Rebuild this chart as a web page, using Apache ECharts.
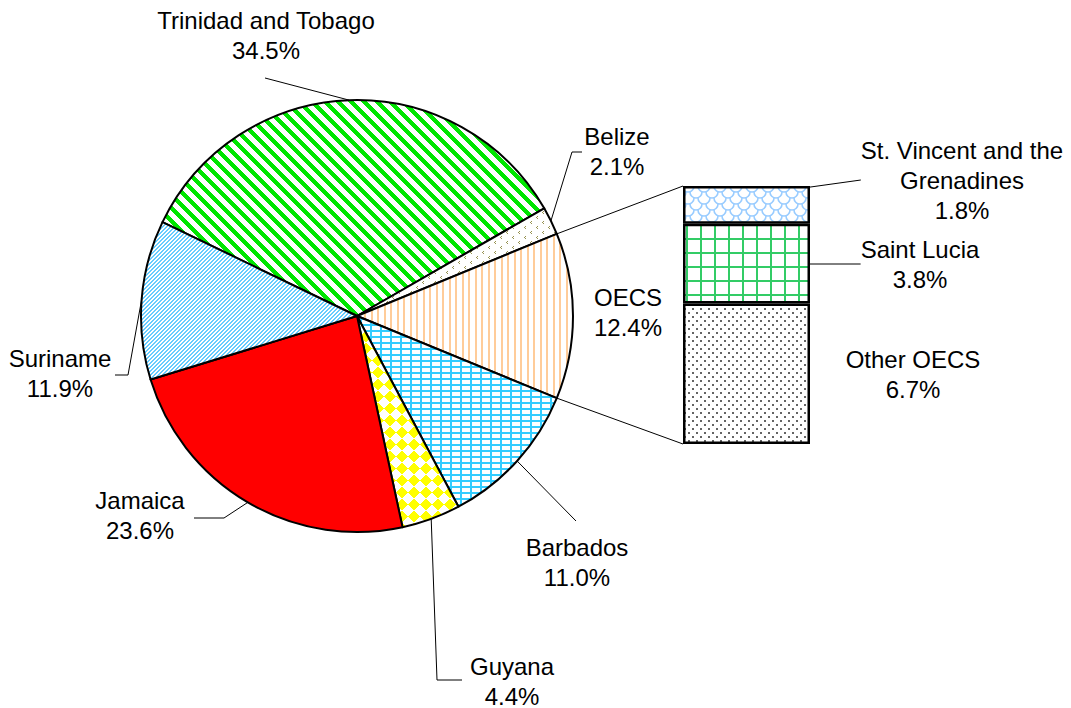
<!DOCTYPE html>
<html><head><meta charset="utf-8">
<script src="https://cdn.jsdelivr.net/npm/echarts/dist/echarts.min.js"></script>
<style>html,body{margin:0;padding:0;background:#fff}#c{width:1071px;height:708px}</style>
</head><body><div id="c"></div>
<script>
// ---------------- data ----------------
const pieNames  = ['Trinidad and Tobago','Belize','OECS','Barbados','Guyana','Jamaica','Suriname'];
const pieValues = [34.5, 2.1, 12.4, 11.0, 4.4, 23.6, 11.9];
const splitName = 'OECS';
const barNames  = ['Other OECS','Saint Lucia','St. Vincent and the Grenadines'];
const barLabels = ['Other OECS','Saint Lucia','St. Vincent and the\nGrenadines'];
const barValues = [6.7, 3.8, 1.8];

// ---------------- layout / style ----------------
const PIE = {cx:357, cy:316, r:216};
const GRID = {left:683, top:186, width:127, height:258};
const FONT = {fontFamily:'"Liberation Sans", Arial, sans-serif', fontSize:24, lineHeight:30, color:'#000'};
const pieLabelPos = {
  'Trinidad and Tobago': {x:266, y:35,  line:[[265,78],[265,78]]},
  'Belize':              {x:617, y:151, line:[[572,152],[582,152]]},
  'OECS':                {x:628, y:312},
  'Barbados':            {x:577, y:562, line:[[576,521],[576,521]]},
  'Guyana':              {x:512, y:681, line:[[437,680],[462,680]]},
  'Jamaica':             {x:140, y:515, line:[[224,518],[194,518]]},
  'Suriname':            {x:60,  y:373, line:[[128,375],[115,375]]}
};
const barLabelPos = {
  'St. Vincent and the Grenadines': {x:962, y:180, line:[[856,178],[856,178]]},
  'Saint Lucia':                    {x:920, y:264, line:[[855,263],[855,263]]},
  'Other OECS':                     {x:913, y:374}
};

// ---------------- patterns ----------------
function tile(w,h,fn){
  const c=document.createElement('canvas');c.width=w;c.height=h;
  const g=c.getContext('2d');const img=g.createImageData(w,h);
  for(let y=0;y<h;y++)for(let x=0;x<w;x++){
    const col=fn(x,y);const i=(y*w+x)*4;
    const v=col||[255,255,255];
    img.data[i]=v[0];img.data[i+1]=v[1];img.data[i+2]=v[2];img.data[i+3]=255;
  }
  g.putImageData(img,0,0);return c;
}
function pat(c){return {image:c.toDataURL(), repeat:'repeat'};}
const GREEN=[0,230,0], LBLUE=[102,204,255], YEL=[255,255,0], CYAN=[51,204,255], PEACH=[255,204,153];
const patterns = {
  'Trinidad and Tobago': pat(tile(13,13,(x,y)=>(((x-y)%13+13)%13)<6?GREEN:null)),
  'Suriname': pat(tile(4,4,(x,y)=>((x+y)%4)<2?LBLUE:null)),
  'Guyana': pat(tile(12,12,(x,y)=>{const u=Math.floor((x+y+0.5)/12),v=Math.floor((x-y+120.5)/12);return (u+v)%2===0?YEL:null;})),
  'Barbados': pat(tile(20,12,(x,y)=>{const row=Math.floor(y/6);const yy=y%6;if(yy<2)return CYAN;const xx=(x+(row%2)*10)%20;return (xx<2||(xx>=10&&xx<12))?CYAN:null;})),
  'OECS': pat(tile(13,4,(x,y)=>(x===0||x===1||x===7||x===8)?PEACH:null)),
  'Belize': pat(tile(12,10,(x,y)=>{const pts=[[3,1],[2,2],[3,3],[9,6],[8,7],[9,8]];return pts.some(p=>p[0]===x&&p[1]===y)?[150,145,80]:null;})),
  'Jamaica': '#ff0000',
  'Saint Lucia': pat(tile(14,14,(x,y)=>(x%14<2||y%14<2)?[51,204,102]:null)),
  'Other OECS': pat(tile(8,8,(x,y)=>{const a=(x<2&&y<2),b=(x>=4&&x<6&&y>=4&&y<6);return (a||b)?[100,100,100]:null;})),
  'St. Vincent and the Grenadines': (function(){
    const c=document.createElement('canvas');c.width=16;c.height=12;const g=c.getContext('2d');
    g.fillStyle='#fff';g.fillRect(0,0,16,12);g.strokeStyle='#99ccff';g.lineWidth=1.6;
    [[8,0],[0,6],[16,6],[8,12],[0,-6],[16,-6]].forEach(p=>{g.beginPath();g.arc(p[0],p[1],6,0,Math.PI);g.stroke();});
    return pat(c);
  })()
};

// ---------------- geometry from data ----------------
const total = pieValues.reduce((a,b)=>a+b,0);
const splitIdx = pieNames.indexOf(splitName);
let before=0; for(let i=0;i<splitIdx;i++) before+=pieValues[i];
const startAngle = (before + pieValues[splitIdx]/2)/total*360; // split slice centred on the right
function angleAt(cum){return (startAngle - cum/total*360)*Math.PI/180;}
function edge(a){return [PIE.cx+PIE.r*Math.cos(a), PIE.cy-PIE.r*Math.sin(a)];}
const midAngles=[]; {let c=0; pieValues.forEach(v=>{midAngles.push(angleAt(c+v/2)); c+=v;});}

const chart = echarts.init(document.getElementById('c'), null, {renderer:'svg'});
const barTotal = barValues.reduce((a,b)=>a+b,0);

const option = {
  animation:false,
  backgroundColor:'#fff',
  grid:{left:GRID.left, top:GRID.top, width:GRID.width, height:GRID.height},
  xAxis:{type:'category', data:[splitName], show:false},
  yAxis:{type:'value', min:0, max:barTotal, show:false},
  series:[
    {
      type:'pie', center:[PIE.cx,PIE.cy], radius:PIE.r, startAngle:startAngle, clockwise:true,
      avoidLabelOverlap:false,
      itemStyle:{borderColor:'#000', borderWidth:2},
      label:Object.assign({show:true, position:'outside', formatter:p=>p.name+'\n'+p.value.toFixed(1)+'%'}, FONT),
      labelLine:{show:true, lineStyle:{color:'#000', width:1}},
      labelLayout:function(p){
        const name=pieNames[p.dataIndex]; const L=pieLabelPos[name];
        const r={x:L.x, y:L.y, align:'center', verticalAlign:'middle'};
        if(L.line){ r.labelLinePoints=[edge(midAngles[p.dataIndex])].concat(L.line); }
        return r;
      },
      data:pieNames.map((n,i)=>({name:n, value:pieValues[i], itemStyle:{color:patterns[n]},
        labelLine:{show:!!pieLabelPos[n].line}}))
    }
  ].concat(barNames.map((n,i)=>({
    type:'bar', name:n, stack:'split', barWidth:'100%',
    itemStyle:{color:patterns[n], borderColor:'#000', borderWidth:2.5},
    label:Object.assign({show:true, position:'right', formatter:()=>barLabels[i]+'\n'+barValues[i].toFixed(1)+'%'}, FONT),
    labelLine:{show:!!barLabelPos[n].line, lineStyle:{color:'#000', width:1}},
    labelLayout:function(p){
      const L=barLabelPos[n];
      const r={x:L.x, y:L.y, align:'center', verticalAlign:'middle'};
      if(L.line){ r.labelLinePoints=[[p.rect.x+p.rect.width, p.rect.y+p.rect.height/2]].concat(L.line); }
      return r;
    },
    data:[barValues[i]]
  })))
};
chart.setOption(option);

// connector lines from split slice edges to bar corners
const topPt = chart.convertToPixel({gridIndex:0}, [splitName, barTotal]);
const botPt = chart.convertToPixel({gridIndex:0}, [splitName, 0]);
const xLeft = GRID.left;
const a1 = angleAt(before), a2 = angleAt(before+pieValues[splitIdx]);
const e1 = edge(a1), e2 = edge(a2);
chart.setOption({graphic:[
  {type:'line', z:1, shape:{x1:e1[0],y1:e1[1],x2:xLeft,y2:topPt[1]}, style:{stroke:'#000',lineWidth:1}},
  {type:'line', z:1, shape:{x1:e2[0],y1:e2[1],x2:xLeft,y2:botPt[1]}, style:{stroke:'#000',lineWidth:1}}
]});
</script>
</body></html>
